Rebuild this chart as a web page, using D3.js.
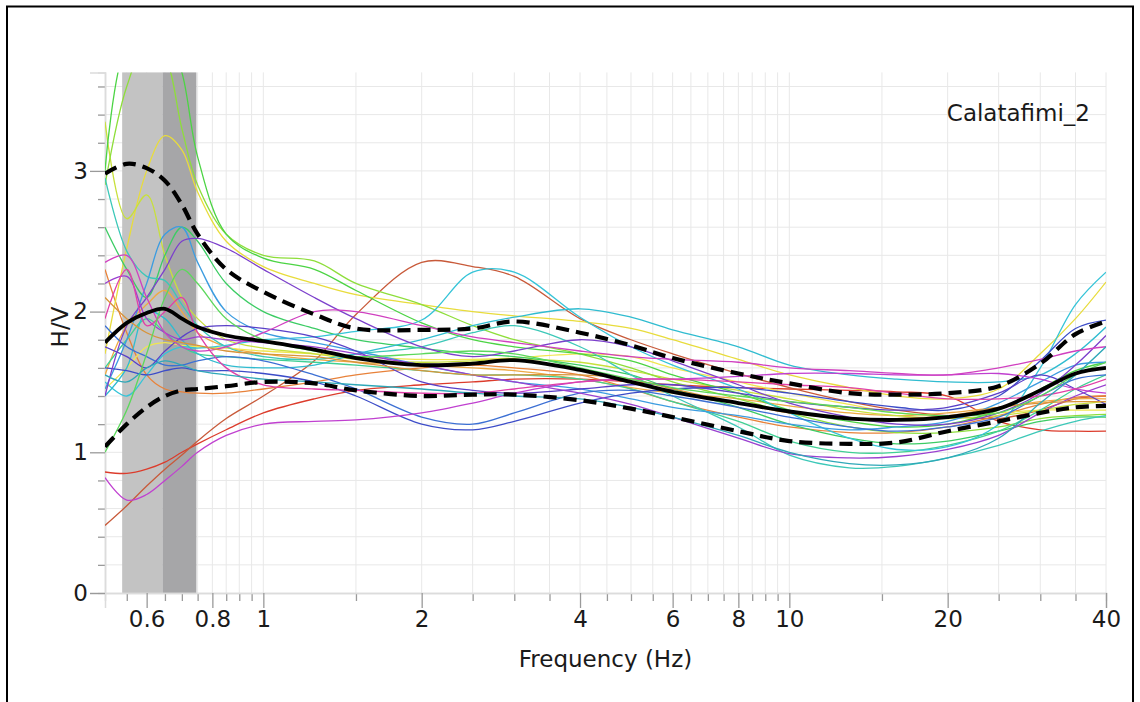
<!DOCTYPE html>
<html><head><meta charset="utf-8">
<script src="https://cdn.jsdelivr.net/npm/d3@7"></script>
<style>body{margin:0;background:#fff}svg{display:block}</style>
</head><body>
<svg id="c" width="1140" height="702"></svg>
<script>
// ---------- data ----------
const FREQ = [0.5,0.55,0.6,0.65,0.7,0.75,0.85,1,1.25,1.5,2,2.5,3,4,5,6,8,10,13,16,20,25,30,35,40];

const s01 = [0.86,0.85,0.88,0.93,1.00,1.06,1.16,1.28,1.38,1.44,1.48,1.50,1.52,1.52,1.50,1.48,1.46,1.45,1.44,1.43,1.40,1.22,1.16,1.15,1.15];
const s02 = [0.48,0.62,0.76,0.88,0.98,1.08,1.24,1.40,1.65,1.98,2.35,2.32,2.25,1.95,1.80,1.70,1.56,1.46,1.36,1.30,1.26,1.24,1.30,1.38,1.40];
const s03 = [2.30,1.85,1.55,1.45,1.43,1.42,1.42,1.45,1.50,1.55,1.60,1.62,1.60,1.55,1.45,1.36,1.25,1.18,1.14,1.14,1.18,1.26,1.34,1.39,1.40];
const s04 = [1.55,1.90,2.05,2.15,2.00,1.85,1.75,1.70,1.66,1.64,1.62,1.60,1.58,1.52,1.46,1.42,1.38,1.33,1.28,1.26,1.28,1.32,1.36,1.38,1.38];
const s05 = [1.70,2.45,3.00,3.25,3.15,2.85,2.50,2.32,2.20,2.12,2.05,2.00,1.97,1.93,1.88,1.80,1.66,1.55,1.46,1.40,1.38,1.45,1.70,1.95,2.21];
const s06 = [1.45,1.60,1.75,1.78,1.76,1.75,1.74,1.72,1.70,1.68,1.66,1.66,1.67,1.70,1.68,1.60,1.50,1.42,1.34,1.28,1.26,1.28,1.30,1.30,1.30];
const s07 = [3.35,2.66,2.83,2.40,2.10,1.95,1.80,1.74,1.70,1.66,1.64,1.65,1.66,1.64,1.58,1.52,1.44,1.38,1.30,1.26,1.24,1.26,1.30,1.34,1.36];
const s08 = [2.90,3.60,3.90,3.80,3.30,2.90,2.55,2.40,2.36,2.20,2.05,1.90,1.80,1.70,1.60,1.50,1.38,1.28,1.18,1.14,1.14,1.18,1.24,1.26,1.27];
const s09 = [3.00,3.90,4.00,4.00,3.70,3.10,2.55,2.38,2.30,2.15,1.92,1.80,1.75,1.70,1.65,1.55,1.42,1.30,1.22,1.18,1.20,1.30,1.45,1.58,1.64];
const s10 = [2.60,2.30,2.10,2.40,2.60,2.50,2.20,2.00,1.88,1.80,1.74,1.70,1.68,1.62,1.55,1.45,1.32,1.20,1.10,1.06,1.08,1.15,1.22,1.25,1.25];
const s11 = [1.60,1.80,1.95,1.85,1.75,1.70,1.68,1.66,1.64,1.62,1.58,1.55,1.55,1.52,1.45,1.36,1.22,1.08,1.00,1.00,1.05,1.15,1.30,1.45,1.55];
const s12 = [2.95,2.43,2.25,2.22,2.05,1.90,1.75,1.68,1.66,1.70,1.75,1.85,1.90,1.75,1.55,1.40,1.18,0.98,0.89,0.90,0.96,1.05,1.15,1.22,1.26];
const s13 = [1.50,1.40,1.55,1.70,1.75,1.74,1.76,1.80,1.82,1.86,1.94,2.28,2.28,1.96,1.75,1.62,1.45,1.28,1.10,1.02,1.04,1.20,1.60,2.05,2.28];
const s14 = [1.40,1.60,2.00,1.95,1.80,1.70,1.62,1.60,1.62,1.70,1.80,1.90,1.96,2.02,1.96,1.87,1.75,1.62,1.55,1.52,1.50,1.50,1.55,1.70,1.89];
const s15 = [1.45,1.80,2.20,2.55,2.60,2.35,2.00,1.85,1.78,1.72,1.62,1.55,1.50,1.45,1.38,1.32,1.26,1.20,1.16,1.18,1.22,1.35,1.50,1.62,1.64];
const s16 = [1.90,1.75,1.68,1.62,1.62,1.65,1.68,1.65,1.55,1.45,1.25,1.20,1.28,1.42,1.44,1.40,1.32,1.25,1.18,1.15,1.18,1.25,1.40,1.52,1.55];
const s17 = [1.60,1.58,1.55,1.58,1.60,1.58,1.58,1.56,1.50,1.40,1.20,1.16,1.22,1.35,1.42,1.45,1.46,1.42,1.36,1.32,1.30,1.40,1.65,1.88,1.94];
const s18 = [1.75,1.68,1.60,1.72,1.82,1.88,1.90,1.88,1.82,1.72,1.50,1.44,1.42,1.45,1.48,1.48,1.42,1.36,1.32,1.30,1.32,1.42,1.55,1.45,1.34];
const s19 = [1.40,1.90,2.10,2.30,2.50,2.52,2.45,2.30,2.10,1.95,1.75,1.68,1.72,1.80,1.75,1.65,1.48,1.35,1.25,1.20,1.20,1.28,1.42,1.62,1.83];
const s20 = [2.20,2.25,1.95,1.85,1.80,1.82,1.80,1.78,1.75,1.70,1.62,1.55,1.50,1.42,1.34,1.25,1.10,0.99,0.96,0.97,1.02,1.12,1.28,1.40,1.48];
const s21 = [0.82,0.66,0.70,0.80,0.90,1.00,1.12,1.20,1.22,1.23,1.28,1.35,1.42,1.50,1.52,1.52,1.54,1.56,1.56,1.55,1.55,1.56,1.52,1.45,1.42];
const s22 = [2.35,2.40,2.10,1.85,1.75,1.72,1.75,1.85,2.00,2.00,1.90,1.82,1.78,1.72,1.68,1.66,1.64,1.60,1.58,1.56,1.55,1.60,1.66,1.72,1.75];
const s23 = [1.95,2.30,1.90,2.00,2.10,1.85,1.60,1.48,1.45,1.44,1.42,1.42,1.45,1.50,1.52,1.52,1.50,1.48,1.46,1.42,1.38,1.38,1.40,1.45,1.52];
const s24 = [2.10,1.95,1.85,1.80,1.78,1.76,1.72,1.70,1.68,1.64,1.58,1.55,1.55,1.55,1.52,1.45,1.35,1.28,1.24,1.24,1.26,1.32,1.35,1.36,1.36];
const s25 = [1.00,1.30,1.70,2.10,2.30,2.20,1.95,1.80,1.72,1.68,1.70,1.72,1.70,1.60,1.52,1.46,1.40,1.36,1.32,1.28,1.26,1.28,1.40,1.55,1.64];
const s26 = [1.55,1.50,1.60,1.65,1.62,1.58,1.55,1.52,1.50,1.48,1.45,1.42,1.40,1.38,1.32,1.25,1.12,1.00,0.92,0.91,0.96,1.10,1.35,1.55,1.75];

const SERIES = [s01,s02,s03,s04,s05,s06,s07,s08,s09,s10,s11,s12,s13,s14,s15,s16,s17,s18,s19,s20,s21,s22,s23,s24,s25,s26];
const COLORS = ["#dc3c2c","#c85a3a","#e8823a","#eeaa44","#e8dc3c","#f0e650","#c8e03c","#8ede3a","#4cd444","#3ccc64",
                "#40d094","#3cc8b8","#36c4d8","#30bcd0","#3c9ce0","#3c70d4","#3c4cc8","#5a40c8","#7c40cc","#9a40d0",
                "#c040d0","#d040c0","#e040a8","#d8943a","#5cd85c","#2ea8b8"];

const MEAN  = [1.78,1.92,1.99,2.02,1.95,1.89,1.83,1.79,1.73,1.67,1.62,1.63,1.655,1.585,1.50,1.43,1.35,1.29,1.24,1.23,1.25,1.31,1.44,1.56,1.60];
const UPPER = [2.98,3.05,3.02,2.93,2.76,2.55,2.30,2.14,1.98,1.88,1.87,1.88,1.93,1.85,1.76,1.67,1.56,1.49,1.42,1.41,1.42,1.47,1.63,1.84,1.93];
const LOWER = [1.04,1.20,1.32,1.40,1.44,1.45,1.47,1.50,1.49,1.44,1.40,1.41,1.41,1.37,1.31,1.25,1.15,1.08,1.06,1.07,1.15,1.22,1.28,1.32,1.33];

const BAND_LIGHT = [0.539,0.643];
const BAND_DARK  = [0.643,0.746];

const XTICKS = [0.55,0.6,0.65,0.7,0.75,0.8,0.85,0.9,0.95,1,1.5,2,2.5,3,3.5,4,4.5,5,5.5,6,6.5,7,7.5,8,8.5,9,9.5,10,15,20,25,30,35,40];
const XLABELS = [0.6,0.8,1,2,4,6,8,10,20,40];
const YTICKS = [0,0.2,0.4,0.6,0.8,1,1.2,1.4,1.6,1.8,2,2.2,2.4,2.6,2.8,3,3.2,3.4,3.6];
const YLABELS = [0,1,2,3];
const STATION = "Calatafimi_2";

// ---------- drawing ----------
const svg = d3.select("#c");
const L = 105, R = 1106, T = 72.4, B = 593;
const x = d3.scaleLog().domain([0.5,40]).range([L,R]);
const y = d3.scaleLinear().domain([0,3.7]).range([B,T]);
const FONT = "DejaVu Sans";
const FS = 23;

// frame
svg.append("path").attr("d",`M7,702 V6.5 H1133 V702`).attr("fill","none").attr("stroke","#000").attr("stroke-width",2);

svg.append("clipPath").attr("id","clip").append("rect").attr("x",L).attr("y",T).attr("width",R-L).attr("height",B-T);

// grid
const grid = svg.append("g").attr("stroke","#e8e8e8").attr("stroke-width",1);
grid.selectAll("line.v").data(XTICKS).join("line").attr("class","v")
  .attr("x1",d=>x(d)).attr("x2",d=>x(d)).attr("y1",T).attr("y2",B);
grid.selectAll("line.h").data(YTICKS.filter(d=>d>0)).join("line").attr("class","h")
  .attr("x1",L).attr("x2",R).attr("y1",d=>y(d)).attr("y2",d=>y(d));

// bands
svg.append("rect").attr("x",x(BAND_LIGHT[0])).attr("width",x(BAND_LIGHT[1])-x(BAND_LIGHT[0]))
  .attr("y",T).attr("height",B-T).attr("fill","#c3c3c3");
svg.append("rect").attr("x",x(BAND_DARK[0])).attr("width",x(BAND_DARK[1])-x(BAND_DARK[0]))
  .attr("y",T).attr("height",B-T).attr("fill","#a6a6a8");

// axes
const xMinor = svg.append("g").attr("transform",`translate(0,${B})`)
  .call(d3.axisBottom(x).tickValues(XTICKS.filter(d=>!XLABELS.includes(d))).tickSize(8).tickFormat(""));
const xMajor = svg.append("g").attr("transform",`translate(0,${B})`)
  .call(d3.axisBottom(x).tickValues(XLABELS).tickSize(15).tickPadding(3).tickFormat(d=>String(d)));
const yMinor = svg.append("g").attr("transform",`translate(${L},0)`)
  .call(d3.axisLeft(y).tickValues(YTICKS.filter(d=>!YLABELS.includes(d))).tickSize(7).tickFormat(""));
const yMajor = svg.append("g").attr("transform",`translate(${L},0)`)
  .call(d3.axisLeft(y).tickValues(YLABELS).tickSize(15).tickPadding(2).tickFormat(d=>String(d)));
[xMinor,xMajor,yMinor,yMajor].forEach(g=>{
  g.select(".domain").attr("stroke","#dcdcdc").attr("stroke-width",1.5);
  g.selectAll(".tick line").attr("stroke","#9a9a9a").attr("stroke-width",1.3);
  g.selectAll("text").attr("font-family",FONT).attr("font-size",FS).attr("fill","#1a1a1a");
});

// curves
const line = d3.line().x((d,i)=>x(FREQ[i])).y(d=>y(d)).curve(d3.curveCatmullRom.alpha(0.5));
const plot = svg.append("g").attr("clip-path","url(#clip)");
plot.selectAll("path.s").data(SERIES).join("path").attr("class","s")
  .attr("d",line).attr("fill","none").attr("stroke",(d,i)=>COLORS[i]).attr("stroke-width",1.3);
[UPPER,LOWER].forEach(a=>plot.append("path").attr("d",line(a)).attr("fill","none")
  .attr("stroke","#000").attr("stroke-width",4.2).attr("stroke-dasharray","13,7"));
plot.append("path").attr("d",line(MEAN)).attr("fill","none").attr("stroke","#000").attr("stroke-width",3.8);

// labels
svg.append("text").attr("x",(L+R)/2).attr("y",667).attr("text-anchor","middle")
  .attr("font-family",FONT).attr("font-size",FS).attr("fill","#1a1a1a").text("Frequency (Hz)");
svg.append("text").attr("transform","translate(68,327) rotate(-90)").attr("text-anchor","middle")
  .attr("font-family",FONT).attr("font-size",FS).attr("fill","#1a1a1a").text("H/V");
svg.append("text").attr("x",1090).attr("y",121).attr("text-anchor","end")
  .attr("font-family",FONT).attr("font-size",FS).attr("fill","#1a1a1a").text(STATION);
</script>
</body></html>
